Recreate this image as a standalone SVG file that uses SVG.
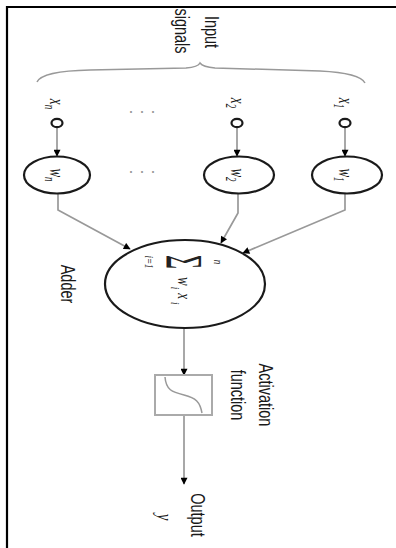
<svg xmlns="http://www.w3.org/2000/svg" width="396" height="548" viewBox="0 0 396 548">
<defs>
<style>
.t{font-family:"Liberation Sans",Arial,sans-serif;font-size:14.5px;fill:#1a1a1a;text-anchor:middle}
.m{font-family:"Liberation Serif","Times New Roman",serif;font-style:italic;font-size:13px;fill:#1a1a1a;text-anchor:middle}
.conn{fill:none;stroke:#999;stroke-width:1.7}
.brace{fill:none;stroke:#999;stroke-width:1.5}
.node{fill:#fff;stroke:#1a1a1a;stroke-width:2.2}
.dots{font-family:"Liberation Sans",Arial,sans-serif;font-size:18px;fill:#999;text-anchor:middle}
</style>
<marker id="ah" viewBox="0 0 10 10" refX="9" refY="5" markerWidth="8" markerHeight="7" markerUnits="userSpaceOnUse" orient="auto"><path d="M0,0 L10,5 L0,10 z" fill="#000"/></marker>
</defs>
<rect width="396" height="548" fill="#fff"/>
<path d="M7,548 V7 H396" fill="none" stroke="#000" stroke-width="2.2"/>

<g id="input-signals">
<path class="brace" d="M37,82 Q42,71 90,70 L186,68 Q198,67 200,63 Q203,67 215,68 L320,71 Q360,73 365,83"/>
<text class="t" transform="translate(205,32) rotate(90) scale(1,1.4)">Input</text>
<text class="t" transform="translate(175,31) rotate(90) scale(1,1.4)">signals</text>
</g>

<g id="connectors">
<path class="conn" marker-end="url(#ah)" d="M57,128 V156"/>
<path class="conn" marker-end="url(#ah)" d="M237,128 V156"/>
<path class="conn" marker-end="url(#ah)" d="M345,128 V156"/>
<path class="conn" marker-end="url(#ah)" d="M58,193 V210 L130,249"/>
<path class="conn" marker-end="url(#ah)" d="M238,193 V213 L221,243"/>
<path class="conn" marker-end="url(#ah)" d="M345,193 V210 L243,253"/>
<path class="conn" marker-end="url(#ah)" d="M184,328 V375"/>
<path class="conn" marker-end="url(#ah)" d="M184,415 V484"/>
</g>

<g id="input-xn">
<ellipse class="node" cx="57" cy="123" rx="5.5" ry="4.2"/>
<text class="m" transform="translate(50,104) rotate(90) scale(1,1.6)">x<tspan font-size="9" dy="3">n</tspan></text>
</g>
<g id="input-x2">
<ellipse class="node" cx="237" cy="123" rx="5.5" ry="4.2"/>
<text class="m" transform="translate(231,103) rotate(90) scale(1,1.6)">x<tspan font-size="9" dy="3">2</tspan></text>
</g>
<g id="input-x1">
<ellipse class="node" cx="345" cy="123" rx="5.5" ry="4.2"/>
<text class="m" transform="translate(339,103) rotate(90) scale(1,1.6)">x<tspan font-size="9" dy="3">1</tspan></text>
</g>
<text class="dots" x="142" y="117">· · ·</text>

<g id="weight-wn">
<ellipse class="node" cx="57" cy="175" rx="33" ry="18.5"/>
<text class="m" transform="translate(50,175) rotate(90) scale(1,1.6)">w<tspan font-size="9" dy="3">n</tspan></text>
</g>
<g id="weight-w2">
<ellipse class="node" cx="239" cy="175" rx="35" ry="18.5"/>
<text class="m" transform="translate(231,175) rotate(90) scale(1,1.6)">w<tspan font-size="9" dy="3">2</tspan></text>
</g>
<g id="weight-w1">
<ellipse class="node" cx="347" cy="175" rx="35" ry="18.5"/>
<text class="m" transform="translate(339,175) rotate(90) scale(1,1.6)">w<tspan font-size="9" dy="3">1</tspan></text>
</g>
<text class="dots" x="142" y="177">· · ·</text>

<g id="adder">
<ellipse class="node" cx="185" cy="284" rx="80" ry="44"/>
<text transform="translate(166,262) rotate(90) scale(1,2.2)" style="font-family:'Liberation Serif','Times New Roman',serif;font-size:24px;text-anchor:middle;fill:#222">Σ</text>
<text class="m" style="font-size:9px" transform="translate(145,262) rotate(90) scale(1,1.4)">i=1</text>
<text class="m" style="font-size:9px" transform="translate(214,262) rotate(90) scale(1,1.4)">n</text>
<text class="m" style="font-size:13px;text-anchor:start" transform="translate(178,277) rotate(90) scale(1,1.4)">w<tspan font-size="9" dy="5" dx="1">i</tspan><tspan dy="-5" dx="4">x</tspan><tspan font-size="9" dy="5" dx="3">i</tspan></text>
<text class="t" transform="translate(61,284) rotate(90) scale(1,1.4)">Adder</text>
</g>

<g id="activation">
<rect x="155" y="375" width="57" height="40" fill="#fff" stroke="#aaa" stroke-width="2"/>
<path d="M165,377 C166,390 172,392 184,395 C196,398 200,402 202,413" fill="none" stroke="#999" stroke-width="1.5"/>
<text class="t" transform="translate(259,395) rotate(90) scale(1,1.4)">Activation</text>
<text class="t" transform="translate(231,395) rotate(90) scale(1,1.4)">function</text>
</g>

<g id="output">
<text class="t" transform="translate(191,515) rotate(90) scale(1,1.4)">Output</text>
<text class="m" style="font-size:15px" transform="translate(158,517) rotate(90) scale(1,1.4)">y</text>
</g>
</svg>
